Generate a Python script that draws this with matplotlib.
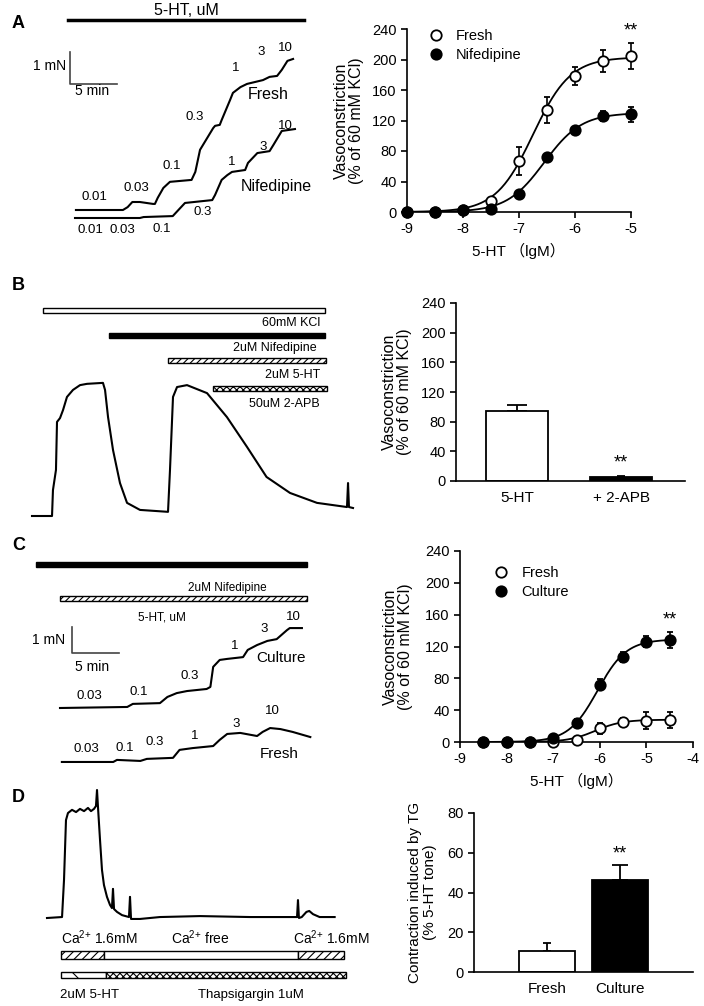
import matplotlib
matplotlib.use('Agg')
import matplotlib.pyplot as plt
from matplotlib.patches import Rectangle
from matplotlib.lines import Line2D
import numpy as np

plt.rcParams['font.family'] = ['Liberation Sans', 'Noto Sans CJK SC']
plt.rcParams['mathtext.fontset'] = 'custom'
plt.rcParams['mathtext.rm'] = 'Liberation Sans'
plt.rcParams['mathtext.default'] = 'regular'
plt.rcParams['hatch.linewidth'] = 0.8
plt.rcParams['axes.linewidth'] = 1.2
plt.rcParams['axes.unicode_minus'] = False

# ---------------- data ----------------
# A: concentration-response, fresh vs nifedipine
logc_a = [-9, -8.5, -8, -7.5, -7, -6.5, -6, -5.5, -5]
fresh_a = [0, 0, 2, 15, 67, 134, 178, 198, 205]
fresh_a_err = [0, 0, 0, 4, 18, 17, 12, 15, 17]
nife_a = [0, 0, 2, 4, 24, 72, 107, 126, 128]
nife_a_err = [0, 0, 0, 1, 2, 4, 4, 6, 10]
fit_fresh_a = (203, -6.75, 1.3)   # top, logEC50, hill slope
fit_nife_a = (130, -6.55, 1.3)

# C: concentration-response, fresh vs culture (with nifedipine)
logc_c = [-8.5, -8, -7.5, -7, -6.5, -6, -5.5, -5, -4.5]
fresh_c = [0, 0, 0, 0, 3, 17, 25, 27, 28]
fresh_c_err = [0, 0, 0, 0, 1, 7, 5, 11, 10]
cult_c = [0, 0, 0, 5, 24, 72, 107, 126, 128]
cult_c_err = [0, 0, 0, 3, 5, 7, 6, 7, 10]
fit_fresh_c = (28, -6.1, 1.5)
fit_cult_c = (129, -6.05, 1.4)

# B: bar chart
bars_b = ['5-HT', '+ 2-APB']
vals_b = [95, 5]
err_b = [7, 2]

# D: bar chart
bars_d = ['Fresh', 'Culture']
vals_d = [10.5, 46.5]
err_d = [4, 7.5]

# traces (time in min, tension in mN above own baseline)
a_fresh_t = [0.1, 5.1, 5.6, 6.1, 6.9, 8.3, 8.5, 8.8, 9.4, 10.1, 12.4, 12.8, 13.3, 14.7, 14.9, 15.4,
             15.6, 16.5, 16.8, 17.6, 18.3, 20.0, 20.7, 21.5, 22.0, 22.6, 23.2]
a_fresh_f = [0, 0, 0.09, 0.25, 0.25, 0.19, 0.19, 0.38, 0.69, 0.88, 0.94, 1.19, 1.88, 2.56, 2.63, 2.66,
             2.81, 3.44, 3.66, 3.84, 3.94, 4.06, 4.16, 4.19, 4.38, 4.66, 4.72]
a_nife_t = [0, 6.9, 7.3, 10.4, 11.0, 11.7, 14.6, 14.9, 15.6, 16.2, 16.7, 18.1, 18.4, 19.4, 20.7, 21.1, 22.0, 23.4]
a_nife_f = [0, 0, 0.03, 0.06, 0.25, 0.47, 0.56, 0.72, 1.19, 1.34, 1.44, 1.5, 1.72, 2.03, 2.09, 2.28, 2.72, 2.78]

b_t = [0, 2.13, 2.23, 2.55, 2.66, 2.98, 3.30, 3.72, 4.36, 5.11, 5.85, 7.55, 7.77, 8.09, 8.62, 9.36, 10.11,
       11.49, 14.47, 14.68, 15.0, 15.43, 16.49, 18.62, 20.74, 22.87, 24.95, 27.45, 30.32, 33.51, 33.62,
       33.72, 34.15]
b_f = [0, 0, 0.81, 1.44, 2.94, 3.06, 3.31, 3.72, 3.94, 4.09, 4.13, 4.16, 3.94, 3.09, 2.06, 1.03, 0.41,
       0.19, 0.13, 1.44, 3.72, 4.03, 4.09, 3.84, 3.09, 2.16, 1.22, 0.72, 0.41, 0.28, 1.03, 0.28, 0.25]

c_cult_t = [0, 7.2, 7.8, 10.7, 11.5, 12.5, 13.6, 15.7, 16.1, 16.4, 17.1, 17.9, 19.6, 20.1, 21.1, 22.2,
            23.2, 24.3, 24.6, 25.9]
c_cult_f = [0, 0.04, 0.16, 0.19, 0.43, 0.58, 0.66, 0.74, 0.82, 1.6, 1.87, 1.91, 1.98, 2.26, 2.45, 2.61,
            2.68, 3.03, 3.11, 3.11]
c_fresh_t = [0.2, 5.7, 6.1, 8.6, 9.3, 12.1, 12.8, 14.2, 16.4, 17.1, 17.9, 19.3, 21.1, 21.7, 22.5, 23.6,
             24.9, 26.8]
c_fresh_f = [0, 0, 0.08, 0.04, 0.12, 0.16, 0.47, 0.54, 0.62, 0.86, 1.09, 1.13, 1.01, 1.17, 1.32, 1.28,
             1.17, 0.97]

d_t = [0, 1.6, 1.81, 2.02, 2.23, 2.66, 3.09, 3.51, 3.94, 4.36, 4.68, 5.0, 5.21, 5.32, 5.43, 5.64, 5.85,
       6.06, 6.38, 6.70, 6.91, 7.02, 7.13, 7.45, 7.98, 8.72, 8.83, 8.94, 9.89, 12.02, 16.28, 21.6, 26.6,
       26.7, 26.8, 27.1, 27.6, 27.9, 28.3, 29.0, 30.6]
d_f = [0, 0.03, 1.19, 3.06, 3.28, 3.38, 3.31, 3.41, 3.34, 3.44, 3.34, 3.41, 3.5, 4.0, 3.44, 2.44, 1.5,
       1.03, 0.66, 0.41, 0.31, 0.91, 0.28, 0.19, 0.09, 0.03, 0.66, -0.03, -0.03, 0.03, 0.06, 0.03, 0.03,
       0.56, 0, 0.03, 0.19, 0.22, 0.12, 0.03, 0.03]

# ---------------- figure ----------------
W, H = 704, 1006
fig = plt.figure(figsize=(W / 100, H / 100), dpi=100)
ov = fig.add_axes([0, 0, 1, 1], facecolor='none')
ov.set_xlim(0, W)
ov.set_ylim(H, 0)
ov.axis('off')


def px_axes(x0, y0, x1, y1):
    return fig.add_axes([x0 / W, 1 - y1 / H, (x1 - x0) / W, (y1 - y0) / H], facecolor='none')


def trace_axes(x0, y0, x1, y1, ox, oy, ppm, ppn):
    ax = px_axes(x0, y0, x1, y1)
    ax.set_xlim((x0 - ox) / ppm, (x1 - ox) / ppm)
    ax.set_ylim((oy - y1) / ppn, (oy - y0) / ppn)
    ax.axis('off')
    return ax


def txt(x, y, s, size=9, ha='center', va='center', **kw):
    ov.text(x, y, s, fontsize=size, ha=ha, va=va, **kw)


def hill(x, top, logec50, slope):
    return top / (1 + 10 ** ((logec50 - x) * slope))


def scale_bar(x, y, ppm, ppn):
    ov.plot([x, x, x + 5 * ppm], [y - ppn, y, y], color='#444444', lw=1.2)


def drug_bar(x0, x1, y, h, face='white', hatch=None):
    ov.add_patch(Rectangle((x0, y), x1 - x0, h, facecolor=face, edgecolor='black',
                           lw=1.0, hatch=hatch))


def dose_plot(ax, x, series, xmax):
    for y, e, fit, fill, z in series:
        xx = np.linspace(x[0], x[-1], 200)
        ax.plot(xx, hill(xx, *fit), color='black', lw=1.3, zorder=2)
        ax.errorbar(x, y, yerr=e, fmt='o', mfc=fill, mec='black', ms=7.5, mew=1.3,
                    ecolor='black', elinewidth=1.2, capsize=2.5, capthick=1.2,
                    clip_on=False, zorder=z)
    ax.set_xlim(-9, xmax)
    ax.set_ylim(0, 240)
    ax.set_yticks(range(0, 241, 40))
    ax.set_xticks(range(-9, xmax + 1))
    for s in ['top', 'right']:
        ax.spines[s].set_visible(False)
    ax.tick_params(labelsize=10.5, width=1.2, length=4)
    ax.set_xlabel('5-HT （lgM）', fontsize=11, labelpad=5)
    ax.set_ylabel('Vasoconstriction\n(% of 60 mM KCl)', fontsize=11.5, linespacing=1.05)


def legend(ax, labels, fills, anchor):
    hs = [Line2D([], [], marker='o', ls='none', mfc=f, mec='black', ms=7.5, mew=1.3) for f in fills]
    ax.legend(hs, labels, loc='upper left', bbox_to_anchor=anchor, frameon=False, fontsize=10.5,
              handlelength=1.0, handletextpad=0.9, labelspacing=0.3, borderaxespad=0)


def bar_plot(ax, names, vals, errs, fills, width, xlim, ylim, step, caps):
    pos = np.arange(len(names))
    ax.bar(pos, vals, width, color=fills, edgecolor='black', linewidth=1.3, zorder=2)
    for p, v, e, c in zip(pos, vals, errs, caps):
        ax.errorbar([p], [v], yerr=[[0], [e]], fmt='none', ecolor='black', elinewidth=1.3,
                    capsize=c, capthick=1.3, zorder=1)
    ax.set_xlim(*xlim)
    ax.set_ylim(0, ylim)
    ax.set_yticks(np.arange(0, ylim + 1, step))
    ax.set_xticks(pos)
    ax.set_xticklabels(names, fontsize=11)
    for s in ['top', 'right']:
        ax.spines[s].set_visible(False)
    ax.tick_params(axis='y', labelsize=10.5, width=1.2, length=4)
    ax.tick_params(axis='x', length=0, pad=7)


# panel letters
for letter, y in [('A', 23), ('B', 285), ('C', 545), ('D', 797)]:
    txt(12, y, letter, size=13, ha='left', weight='bold')

# ---- A left: traces ----
ta = trace_axes(60, 30, 310, 245, 75, 210, 9.4, 32)
ta.plot(a_fresh_t, a_fresh_f, color='black', lw=1.5)
ta.plot(a_nife_t, np.array(a_nife_f) - 0.25, color='black', lw=1.5)
ov.plot([68, 304], [20, 20], color='black', lw=2.5)
txt(186, 10, '5-HT, uM', size=11.5)
scale_bar(70, 84, 9.4, 32)
txt(66, 66, '1 mN', size=10, ha='right')
txt(92, 91, '5 min', size=10)
for s, x, y in [('0.01', 94, 197), ('0.03', 136, 188), ('0.1', 172, 166), ('0.3', 195, 117),
                ('1', 236, 68), ('3', 261, 52), ('10', 285, 48),
                ('0.01', 90, 230), ('0.03', 122, 230), ('0.1', 162, 229), ('0.3', 203, 212),
                ('1', 232, 162), ('3', 263, 147), ('10', 285, 126)]:
    txt(x, y, s, size=9.5)
txt(268, 94, 'Fresh', size=11.5)
txt(276, 186, 'Nifedipine', size=11.5)

# ---- A right ----
axa = px_axes(407, 29, 631, 212)
dose_plot(axa, logc_a, [(fresh_a, fresh_a_err, fit_fresh_a, 'white', 3),
                        (nife_a, nife_a_err, fit_nife_a, 'black', 4)], -5)
axa.yaxis.set_label_coords(-0.19, 0.5)
legend(axa, ['Fresh', 'Nifedipine'], ['white', 'black'], (0.07, 1.03))
axa.text(-5, 226, '**', ha='center', va='bottom', fontsize=13)

# ---- B left ----
tb = trace_axes(25, 300, 360, 525, 32, 516, 9.4, 32)
tb.plot(b_t, b_f, color='black', lw=1.5)
drug_bar(43, 325, 308, 5)
drug_bar(109, 325, 333, 5, face='black')
drug_bar(168, 326, 358, 5, hatch='/////')
drug_bar(213, 327, 386, 5, hatch='xxxxx')
txt(320, 323, '60mM KCl', ha='right')
txt(317, 348, '2uM Nifedipine', ha='right')
txt(320, 375, '2uM 5-HT', ha='right')
txt(320, 404, '50uM 2-APB', ha='right')

# ---- B right ----
axb = px_axes(456, 303, 685, 481)
bar_plot(axb, bars_b, vals_b, err_b, ['white', 'black'], 0.6, (-0.587, 1.615), 240, 40, [7, 3])
axb.set_ylabel('Vasoconstriction\n(% of 60 mM KCl)', fontsize=11.5, linespacing=1.05)
axb.yaxis.set_label_coords(-0.19, 0.5)
axb.text(1, 13, '**', ha='center', va='bottom', fontsize=13)

# ---- C left ----
tc = trace_axes(50, 620, 320, 770, 60, 708, 9.34, 25.7)
tc.plot(c_cult_t, c_cult_f, color='black', lw=1.5)
tc.plot(c_fresh_t, np.array(c_fresh_f) - 2.1, color='black', lw=1.5)
drug_bar(36, 307, 562, 5, face='black')
drug_bar(60, 307, 596, 5, hatch='/////')
txt(227, 588, '2uM Nifedipine', size=8.5)
txt(162, 618, '5-HT, uM', size=8.5)
scale_bar(72, 653, 9.34, 25.7)
txt(65, 640, '1 mN', size=10, ha='right')
txt(92, 667, '5 min', size=10)
for s, x, y in [('0.03', 89, 696), ('0.1', 139, 692), ('0.3', 190, 676), ('1', 235, 646),
                ('3', 264, 629), ('10', 293, 617),
                ('0.03', 86, 749), ('0.1', 125, 748), ('0.3', 155, 742), ('1', 195, 736),
                ('3', 236, 724), ('10', 272, 711)]:
    txt(x, y, s, size=9.5)
txt(281, 658, 'Culture', size=11)
txt(279, 754, 'Fresh', size=11)

# ---- C right ----
axc = px_axes(460, 551, 693, 742)
dose_plot(axc, logc_c, [(fresh_c, fresh_c_err, fit_fresh_c, 'white', 3),
                        (cult_c, cult_c_err, fit_cult_c, 'black', 4)], -4)
axc.yaxis.set_label_coords(-0.2, 0.5)
legend(axc, ['Fresh', 'Culture'], ['white', 'black'], (0.12, 0.95))
axc.text(-4.5, 143, '**', ha='center', va='bottom', fontsize=13)

# ---- D left ----
td = trace_axes(40, 785, 350, 935, 47, 918, 9.4, 32)
td.plot(d_t, d_f, color='black', lw=1.5)
drug_bar(61, 104, 951, 8, hatch='////')
drug_bar(104, 298, 951, 8)
drug_bar(298, 344, 951, 8, hatch='////')
drug_bar(61, 106, 972, 6, hatch='\\')
drug_bar(106, 346, 972, 6, hatch='xxxxx')
ca = r'Ca$^{2{+}}$'
txt(61, 944, ca + ' 1.6mM', size=10, ha='left', va='baseline')
txt(171, 944, ca + ' free', size=10, ha='left', va='baseline')
txt(293, 944, ca + ' 1.6mM', size=10, ha='left', va='baseline')
txt(60, 995, '2uM 5-HT', size=9.5, ha='left')
txt(251, 995, 'Thapsigargin 1uM', size=9.5)

# ---- D right ----
axd = px_axes(474, 813, 693, 972)
bar_plot(axd, bars_d, vals_d, err_d, ['white', 'black'], 0.77, (-1, 2), 80, 20, [3, 6])
axd.set_ylabel('Contraction induced by TG\n(% 5-HT tone)', fontsize=11, linespacing=1.05)
axd.yaxis.set_label_coords(-0.17, 0.5)
axd.text(1, 55, '**', ha='center', va='bottom', fontsize=13)

fig.savefig('out.png', dpi=100)
